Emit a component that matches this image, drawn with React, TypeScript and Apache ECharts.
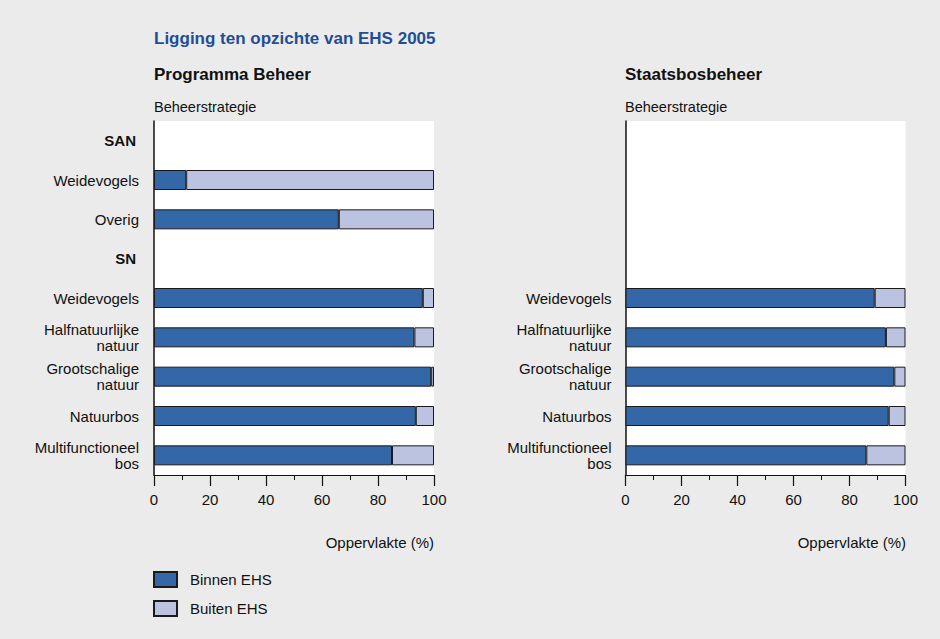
import React, { useEffect, useRef } from "react";
import * as echarts from "echarts";

const categories = [
  "SAN",
  "Weidevogels",
  "Overig",
  "SN",
  "Weidevogels",
  "Halfnatuurlijke\nnatuur",
  "Grootschalige\nnatuur",
  "Natuurbos",
  "Multifunctioneel\nbos",
];
const headerRows = ["SAN", "SN"];
const rightHidden = [0, 1, 2, 3];

const pbBinnen = [null, 11.5, 66, null, 96, 93, 99, 93.5, 85];
const pbBuiten = [null, 88.5, 34, null, 4, 7, 1, 6.5, 15];
const sbbBinnen = [null, null, null, null, 89, 93, 96, 94, 86];
const sbbBuiten = [null, null, null, null, 11, 7, 4, 6, 14];

const xTicks = [0, 20, 40, 60, 80, 100];

const FONT = "'Liberation Sans', Arial, Helvetica, sans-serif";
const BLUE = "#3467a7";
const LIGHT = "#bcc3e0";

export default function App() {
  const ref = useRef<HTMLDivElement>(null);
  useEffect(() => {
    if (!ref.current) return;
    const chart = echarts.init(ref.current, null, { renderer: "svg" });
    const grids = [
      { left: 154, top: 121, width: 280, height: 354 },
      { left: 625.5, top: 121, width: 280, height: 354 },
    ];
    const xAxis = grids.map((_, i) => ({
      type: "value",
      gridIndex: i,
      min: xTicks[0],
      max: xTicks[xTicks.length - 1],
      interval: 20,
      axisLine: { show: true, lineStyle: { color: "#111", width: 1.2 } },
      axisTick: { show: true, length: 11, lineStyle: { color: "#111", width: 1.2 } },
      minorTick: { show: true, splitNumber: 2, length: 5, lineStyle: { color: "#111", width: 1 } },
      splitLine: { show: false },
      axisLabel: { fontSize: 15, color: "#111", fontFamily: FONT, margin: 17 },
    }));
    const yAxis = grids.map((_, i) => ({
      type: "category",
      gridIndex: i,
      inverse: true,
      data: categories,
      axisLine: { show: true, onZero: false, lineStyle: { color: "#111", width: 1.5 } },
      axisTick: { show: false },
      axisLabel: {
        margin: i === 0 ? 15 : 14,
        fontSize: 15,
        lineHeight: 16,
        color: "#111",
        fontFamily: FONT,
        align: "right",
        formatter: (v: string, idx: number) => {
          if (i === 1 && rightHidden.includes(idx)) return "";
          if (headerRows.includes(v)) return "{b|" + v + "}";
          return v;
        },
        rich: {
          b: { fontWeight: "bold", fontSize: 15, color: "#111", fontFamily: FONT, padding: [0, 3, 0, 0] },
        },
      },
    }));
    const mk = (name: string, data: (number | null)[], gi: number, color: string) => ({
      name,
      type: "bar",
      stack: "s" + gi,
      xAxisIndex: gi,
      yAxisIndex: gi,
      barWidth: 20,
      data,
      itemStyle: { color, borderColor: "#1a1a1a", borderWidth: 1 },
    });
    chart.setOption({
      animation: false,
      backgroundColor: "#ebebeb",
      textStyle: { fontFamily: FONT },
      grid: grids.map((g) => ({
        ...g,
        show: true,
        backgroundColor: "#ffffff",
        borderWidth: 0,
      })),
      xAxis,
      yAxis,
      legend: {
        data: ["Binnen EHS", "Buiten EHS"],
        orient: "vertical",
        left: 153,
        top: 571,
        padding: 0,
        itemWidth: 23,
        itemHeight: 15,
        itemGap: 12,
        icon: "rect",
        textStyle: { fontSize: 15, color: "#111", fontFamily: FONT, padding: [0, 0, 0, 8] },
        selectedMode: false,
      },
      series: [
        mk("Binnen EHS", pbBinnen, 0, BLUE),
        mk("Buiten EHS", pbBuiten, 0, LIGHT),
        mk("Binnen EHS", sbbBinnen, 1, BLUE),
        mk("Buiten EHS", sbbBuiten, 1, LIGHT),
      ],
      graphic: [
        {
          type: "text",
          left: 154,
          top: 30,
          style: {
            text: "Ligging ten opzichte van EHS 2005",
            fontSize: 17,
            fontWeight: "bold",
            fill: "#1f4e96",
            fontFamily: FONT,
          },
        },
        {
          type: "text",
          left: 154,
          top: 66,
          style: { text: "Programma Beheer", fontSize: 17, fontWeight: "bold", fill: "#111", fontFamily: FONT },
        },
        {
          type: "text",
          left: 625,
          top: 66,
          style: { text: "Staatsbosbeheer", fontSize: 17, fontWeight: "bold", fill: "#111", fontFamily: FONT },
        },
        {
          type: "text",
          left: 154,
          top: 99,
          style: { text: "Beheerstrategie", fontSize: 14.5, fill: "#111", fontFamily: FONT },
        },
        {
          type: "text",
          left: 625,
          top: 99,
          style: { text: "Beheerstrategie", fontSize: 14.5, fill: "#111", fontFamily: FONT },
        },
        {
          type: "text",
          right: 940 - 434,
          top: 535,
          style: { text: "Oppervlakte (%)", fontSize: 15, fill: "#111", fontFamily: FONT },
        },
        {
          type: "text",
          right: 940 - 906,
          top: 535,
          style: { text: "Oppervlakte (%)", fontSize: 15, fill: "#111", fontFamily: FONT },
        },
      ],
    });
    return () => chart.dispose();
  }, []);
  return (
    <div
      ref={ref}
      style={{ position: "fixed", left: 0, top: 0, width: 940, height: 639 }}
    />
  );
}
